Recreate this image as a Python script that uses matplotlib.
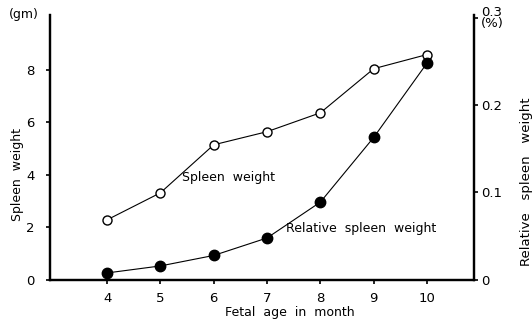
import matplotlib
matplotlib.use("Agg")
import matplotlib.pyplot as plt

months = [4, 5, 6, 7, 8, 9, 10]
spleen_weight = [2.29, 3.32, 5.15, 5.65, 6.37, 8.05, 8.59]
relative_weight = [0.008, 0.016, 0.028, 0.048, 0.089, 0.163, 0.248]
left_ticks = [0, 2, 4, 6, 8]
right_ticks = [0, 0.1, 0.2, 0.3]
right_labels = ["0", "0.1", "0.2", "0.3\n(%)"]

plt.rcParams['font.family'] = ['DejaVu Sans']
fig = plt.figure(figsize=(5.32, 3.24), dpi=100)
ax = fig.add_axes([0.094, 0.136, 0.797, 0.818])
ax2 = ax.twinx()

ax.plot(months, spleen_weight, color='black', lw=0.8, marker='o', ms=6.5,
        mfc='white', mec='black', mew=1.0, zorder=3)
ax2.plot(months, relative_weight, color='black', lw=0.8, marker='o', ms=7.5,
         mfc='black', mec='black', zorder=3)

ax.set_xlim(2.93, 10.88)
ax.set_ylim(0, 10.1)
ax2.set_ylim(0, 0.303)

ax.set_xticks(months)
ax.set_yticks(left_ticks)
ax2.set_yticks(right_ticks)
ax2.set_yticklabels(right_labels, linespacing=0.8)

for a in (ax, ax2):
    a.spines['top'].set_visible(False)
    for s in ('left', 'right', 'bottom'):
        a.spines[s].set_linewidth(1.6)
ax.tick_params(axis='both', direction='out', length=3, width=1.2, labelsize=9.5)
ax.tick_params(axis='y', pad=8)
ax.tick_params(axis='x', pad=6)
ax2.tick_params(axis='y', direction='out', length=3, width=1.2, labelsize=9.5, pad=2)

fig.text(0.017, 0.954, "(gm)", fontsize=9, va='center', ha='left')
fig.text(0.033, 0.46, "Spleen  weight", rotation=90, fontsize=9, va='center', ha='center')
fig.text(0.99, 0.44, "Relative   spleen   weight", rotation=90, fontsize=9.5,
         va='center', ha='center')
fig.text(0.545, 0.035, "Fetal  age  in  month", fontsize=9, ha='center', va='center')

ax.text(5.4, 3.9, "Spleen  weight", fontsize=9, va='center', ha='left')
ax.text(7.35, 1.95, "Relative  spleen  weight", fontsize=9, va='center', ha='left')

fig.savefig("out.png", dpi=100)
